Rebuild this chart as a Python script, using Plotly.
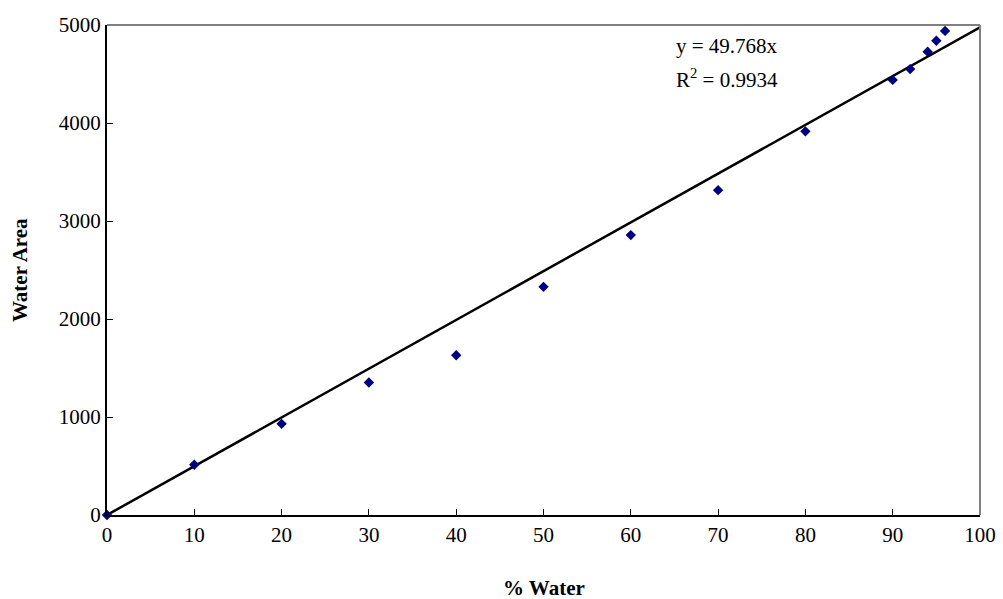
import plotly.graph_objects as go

pct_water = [0, 10, 20, 30, 40, 50, 60, 70, 80, 90, 92, 94, 95, 96]
water_area = [0, 512, 930, 1352, 1630, 2328, 2856, 3315, 3915, 4440, 4550, 4728, 4840, 4940]
slope = 49.768
r2 = 0.9934
trend_x = [0, 100]
trend_y = [slope * v for v in trend_x]

FONT = "Liberation Serif, Times New Roman, serif"

fig = go.Figure()
fig.add_trace(go.Scatter(x=trend_x, y=trend_y, mode="lines",
                         line=dict(color="black", width=2.5), showlegend=False,
                         hoverinfo="skip"))
fig.add_trace(go.Scatter(x=pct_water, y=water_area, mode="markers",
                         marker=dict(symbol="diamond", color="#000080", size=8),
                         showlegend=False, cliponaxis=False))

fig.add_annotation(x=65.0, y=4790, xref="x", yref="y", xanchor="left", yanchor="middle",
                   showarrow=False, align="left", text=f"y = {slope}x",
                   font=dict(family=FONT, size=21, color="black"))
fig.add_annotation(x=65.0, y=4450, xref="x", yref="y", xanchor="left", yanchor="middle",
                   showarrow=False, align="left", text=f"R<sup>2</sup> = {r2}",
                   font=dict(family=FONT, size=21, color="black"))

# axis titles placed in pixels below / left of the plot area
fig.add_annotation(x=0.5, y=0, xref="paper", yref="paper", yshift=-73,
                   xanchor="center", yanchor="middle", showarrow=False,
                   text="<b>% Water</b>", font=dict(family=FONT, size=21, color="black"))
fig.add_annotation(x=0, y=0.5, xref="paper", yref="paper", xshift=-87,
                   xanchor="center", yanchor="middle", showarrow=False, textangle=-90,
                   text="<b>Water Area</b>", font=dict(family=FONT, size=21, color="black"))

# gray top/right border
fig.add_shape(type="line", xref="paper", yref="paper", x0=0, x1=1, y0=1, y1=1,
              line=dict(color="#808080", width=2))
fig.add_shape(type="line", xref="paper", yref="paper", x0=1, x1=1, y0=0, y1=1,
              line=dict(color="#808080", width=2))

fig.update_layout(
    width=1003, height=599,
    margin=dict(l=107, r=23, t=25, b=84),
    plot_bgcolor="white", paper_bgcolor="white",
    font=dict(family=FONT, size=21, color="black"),
    xaxis=dict(range=[0, 100], tickvals=list(range(0, 101, 10)), automargin=False,
               showgrid=False, zeroline=False, showline=True, linecolor="black",
               linewidth=2, ticks="inside", ticklen=6, tickcolor="black"),
    yaxis=dict(range=[0, 5000], tickvals=list(range(0, 5001, 1000)), automargin=False,
               showgrid=False, zeroline=False, showline=True, linecolor="black",
               linewidth=2, ticks="inside", ticklen=6, tickcolor="black"),
)

fig.write_html("out.html")
